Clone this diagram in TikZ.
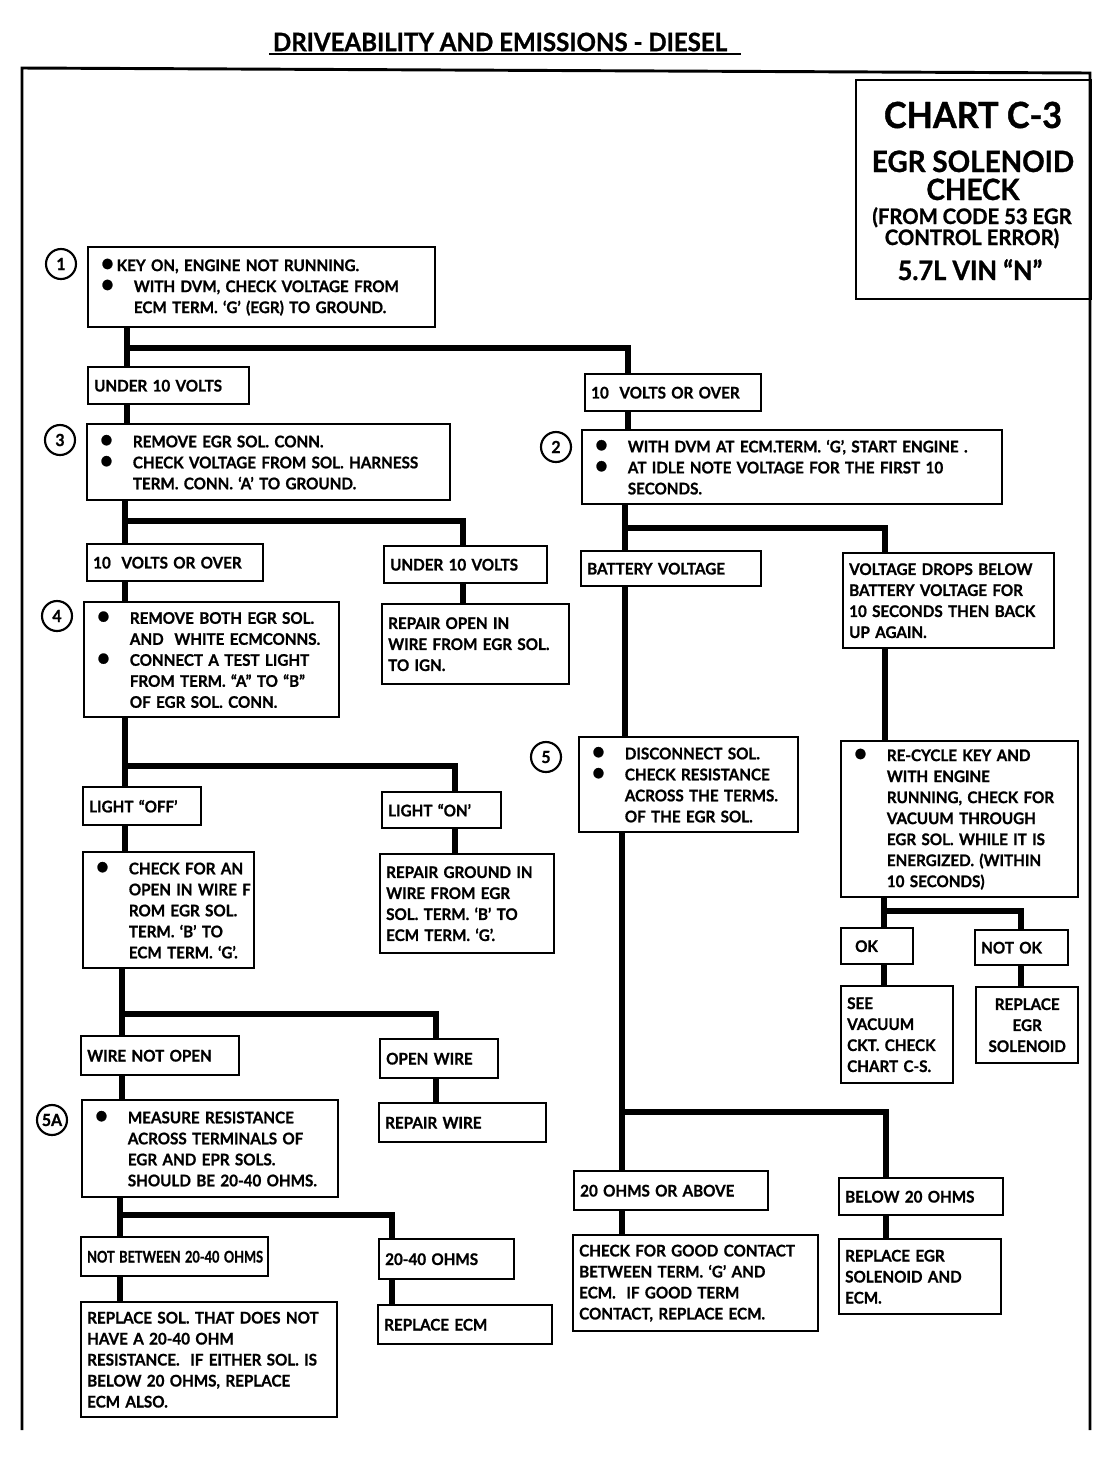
\documentclass[tikz,border=0pt]{standalone}
\usepackage{graphicx}
\usepackage{fontspec}
\setmainfont{Lato}[FakeStretch=0.95, BoldFeatures={FakeBold=1}]

\newcommand{\bigbullet}{{\fontsize{18}{0}\selectfont\textbullet}}
\newcommand{\bl}{\hspace*{5pt}\makebox[24.75pt][l]{\bigbullet}}
\newcommand{\ind}{\hspace*{29.75pt}}

\begin{document}
\begin{tikzpicture}[x=0.75pt,y=0.75pt,yscale=-1,xscale=1,
    box/.style={draw, fill=white, line width=1.8pt, anchor=north west, align=left,
        inner xsep=4.5pt, inner ysep=0pt, font=\fontsize{12}{15.75}\selectfont\bfseries},
    wire/.style={line width=4.2pt},
    stepno/.style={draw, circle, line width=1.6pt, minimum size=22.5pt, inner sep=0pt,
        font=\fontsize{12.5}{14}\selectfont\bfseries},
    chartline/.style={anchor=base, inner sep=0pt}]
    \useasboundingbox (0,0) rectangle (1104,1472);

    % Title
    \node (title) at (500,42) [inner sep=1.5pt, font=\fontsize{19}{22}\selectfont\bfseries] {DRIVEABILITY AND EMISSIONS - DIESEL};
    \draw [line width=1.5pt] ([xshift=-1pt]title.south west) -- ([xshift=9pt]title.south east);

    % Frame, open at the bottom
    \draw [line width=2.2pt] (22,1430) -- (22,68) -- (1090,73) -- (1090,1430);

    % Chart box
    \node (chart) at (855,79) [draw, line width=1.8pt, anchor=north west, minimum width=176.25pt, minimum height=164.25pt] {};
    \node (chartno) at (973,128) [chartline, font=\fontsize{27}{30}\selectfont\bfseries] {CHART C-3};
    \node (chartttl) at (973,172) [chartline, font=\fontsize{22}{24}\selectfont\bfseries] {EGR SOLENOID};
    \node (chartchk) at (973,200) [chartline, font=\fontsize{22}{24}\selectfont\bfseries] {CHECK};
    \node (chartfrom) at (972,224) [chartline, font=\fontsize{16}{18}\selectfont\bfseries] {(FROM CODE 53 EGR};
    \node (chartctl) at (972,245) [chartline, font=\fontsize{16}{18}\selectfont\bfseries] {CONTROL ERROR)};
    \node (chartvin) at (970,280) [chartline, font=\fontsize{20}{22}\selectfont\bfseries] {5.7L VIN “N”};

    % Step numbers
    \node (s1) at (61,264) [stepno] {1};
    \node (s3) at (60,440) [stepno] {3};
    \node (s2) at (556,447) [stepno] {2};
    \node (s4) at (57,616) [stepno] {4};
    \node (s5) at (546,757) [stepno] {5};
    \node (s5a) at (52,1120) [stepno] {5A};

    % Left column
    \node (c1) at (87,246) [box, text width=251.25pt, minimum height=60pt] {\hspace*{5pt}\bigbullet\,KEY ON, ENGINE NOT RUNNING.\\ \bl WITH DVM, CHECK VOLTAGE FROM\\ \ind ECM TERM. ‘G’ (EGR) TO GROUND.};
    \node (u1) at (87,366) [box, text width=111.75pt, minimum height=27.75pt] {UNDER 10 VOLTS};
    \node (c3) at (86,423) [box, text width=263.25pt, minimum height=57pt] {\bl REMOVE EGR SOL. CONN.\\ \bl CHECK VOLTAGE FROM SOL. HARNESS\\ \ind TERM. CONN. ‘A’ TO GROUND.};
    \node (o2) at (86,543) [box, text width=123pt, minimum height=27.75pt] {10\ \ VOLTS OR OVER};
    \node (u2) at (383,545) [box, text width=113.25pt, minimum height=27.75pt] {UNDER 10 VOLTS};
    \node (c4) at (83,601) [box, text width=182.25pt, minimum height=86.25pt] {\bl REMOVE BOTH EGR SOL.\\ \ind AND\ \ WHITE ECMCONNS.\\ \bl CONNECT A TEST LIGHT\\ \ind FROM TERM. “A” TO “B”\\ \ind OF EGR SOL. CONN.};
    \node (ropen) at (381,603) [box, text width=131.25pt, minimum height=60pt] {REPAIR OPEN IN\\ WIRE FROM EGR SOL.\\ TO IGN.};
    \node (off) at (82,786) [box, text width=79.5pt, minimum height=28.5pt] {LIGHT “OFF’};
    \node (on) at (381,791) [box, text width=80.25pt, minimum height=27pt] {LIGHT “ON’};
    \node (chkopen) at (82,851) [box, text width=119.25pt, minimum height=87pt] {\bl\mbox{CHECK FOR AN}\\ \ind\mbox{OPEN IN WIRE F}\\ \ind\mbox{ROM EGR SOL.}\\ \ind\mbox{TERM. ‘B’ TO}\\ \ind\mbox{ECM TERM. ‘G’.}};
    \node (rground) at (379,853) [box, text width=121.5pt, minimum height=74.25pt] {REPAIR GROUND IN\\ WIRE FROM EGR\\ SOL. TERM. ‘B’ TO\\ ECM TERM. ‘G’.};
    \node (wno) at (80,1035) [box, text width=109.5pt, minimum height=29.25pt] {WIRE NOT OPEN};
    \node (ow) at (379,1038) [box, text width=79.5pt, minimum height=29.25pt] {OPEN WIRE};
    \node (rwire) at (378,1102) [box, text width=116.25pt, minimum height=29.25pt] {REPAIR WIRE};
    \node (c5a) at (81,1099) [box, text width=183pt, minimum height=72.75pt] {\bl MEASURE RESISTANCE\\ \ind ACROSS TERMINALS OF\\ \ind EGR AND EPR SOLS.\\ \ind\mbox{SHOULD BE 20-40 OHMS.}};
    \node (nb) at (80,1236) [box, text width=131.25pt, minimum height=29.25pt] {\scalebox{0.84}[1]{NOT BETWEEN 20-40 OHMS}};
    \node (o2040) at (378,1238) [box, text width=92.25pt, minimum height=30pt] {20-40 OHMS};
    \node (rsol) at (80,1301) [box, text width=183pt, minimum height=86.25pt] {\mbox{REPLACE SOL. THAT DOES NOT}\\ HAVE A 20-40 OHM\\ \mbox{RESISTANCE.\ \ IF EITHER SOL. IS}\\ BELOW 20 OHMS, REPLACE\\ ECM ALSO.};
    \node (recm) at (377,1304) [box, text width=121.5pt, minimum height=29.25pt] {REPLACE ECM};

    % Right column
    \node (o1) at (584,373) [box, text width=123pt, minimum height=27.75pt] {10\ \ VOLTS OR OVER};
    \node (c2) at (581,429) [box, text width=306pt, minimum height=55.5pt] {\bl WITH DVM AT ECM.TERM. ‘G’, START ENGINE .\\ \bl AT IDLE NOTE VOLTAGE FOR THE FIRST 10\\ \ind SECONDS.};
    \node (bat) at (580,550) [box, text width=126pt, minimum height=26.25pt] {BATTERY VOLTAGE};
    \node (drops) at (842,552) [box, text width=149.25pt, minimum height=71.25pt] {VOLTAGE DROPS BELOW\\ BATTERY VOLTAGE FOR\\ 10 SECONDS THEN BACK\\ UP AGAIN.};
    \node (c5) at (578,736) [box, text width=155.25pt, minimum height=71.25pt] {\bl DISCONNECT SOL.\\ \bl CHECK RESISTANCE\\ \ind\mbox{ACROSS THE TERMS.}\\ \ind OF THE EGR SOL.};
    \node (recyc) at (840,740) [box, text width=168.75pt, minimum height=117pt] {\bl RE-CYCLE KEY AND\\ \ind WITH ENGINE\\ \ind RUNNING, CHECK FOR\\ \ind VACUUM THROUGH\\ \ind EGR SOL. WHILE IT IS\\ \ind ENERGIZED. (WITHIN\\ \ind 10 SECONDS)};
    \node (ok) at (840,927) [box, text width=45pt, minimum height=27pt] {\hspace*{6pt}OK};
    \node (notok) at (974,929) [box, text width=60.75pt, minimum height=26.25pt] {NOT OK};
    \node (seevac) at (840,985) [box, text width=75pt, minimum height=72.75pt] {SEE\\ VACUUM\\ CKT. CHECK\\ CHART C-S.};
    \node (regr) at (975,986) [box, align=center, text width=67.5pt, minimum height=57pt] {REPLACE\\ EGR\\ SOLENOID};
    \node (o20) at (573,1170) [box, text width=136.5pt, minimum height=29.25pt] {20 OHMS OR ABOVE};
    \node (b20) at (838,1177) [box, text width=114pt, minimum height=27.75pt] {BELOW 20 OHMS};
    \node (good) at (572,1234) [box, text width=174.75pt, minimum height=72pt] {CHECK FOR GOOD CONTACT\\ BETWEEN TERM. ‘G’ AND\\ ECM.\ \ IF GOOD TERM\\ CONTACT, REPLACE ECM.};
    \node (regrecm) at (838,1238) [box, text width=112.5pt, minimum height=56.25pt] {REPLACE EGR\\ SOLENOID AND\\ ECM.};

    % Branch points
    \coordinate (j1) at (127,348);  \coordinate (j1r) at (628,348);
    \coordinate (j2) at (125,521);  \coordinate (j2r) at (463,521);
    \coordinate (j3) at (625,528);  \coordinate (j3r) at (885,528);
    \coordinate (j4) at (125,766);  \coordinate (j4r) at (455,766);
    \coordinate (j5) at (122,1014); \coordinate (j5r) at (436,1014);
    \coordinate (j6) at (120,1215); \coordinate (j6r) at (392,1215);
    \coordinate (j7) at (884,911);  \coordinate (j7r) at (1021,911);
    \coordinate (j8) at (622,1112); \coordinate (j8r) at (886,1112);

    % Connectors
    \draw [wire] (j1 |- c1.south) -- (j1 |- u1.north);
    \draw [wire] (j1) -| (j1r |- o1.north);
    \draw [wire] (j1 |- u1.south) -- (j1 |- c3.north);
    \draw [wire] (j1r |- o1.south) -- (j1r |- c2.north);

    \draw [wire] (j2 |- c3.south) -- (j2 |- o2.north);
    \draw [wire] (j2) -| (j2r |- u2.north);
    \draw [wire] (j2 |- o2.south) -- (j2 |- c4.north);
    \draw [wire] (j2r |- u2.south) -- (j2r |- ropen.north);

    \draw [wire] (j4 |- c4.south) -- (j4 |- off.north);
    \draw [wire] (j4) -| (j4r |- on.north);
    \draw [wire] (j4 |- off.south) -- (j4 |- chkopen.north);
    \draw [wire] (j4r |- on.south) -- (j4r |- rground.north);

    \draw [wire] (j5 |- chkopen.south) -- (j5 |- wno.north);
    \draw [wire] (j5) -| (j5r |- ow.north);
    \draw [wire] (j5 |- wno.south) -- (j5 |- c5a.north);
    \draw [wire] (j5r |- ow.south) -- (j5r |- rwire.north);

    \draw [wire] (j6 |- c5a.south) -- (j6 |- nb.north);
    \draw [wire] (j6) -| (j6r |- o2040.north);
    \draw [wire] (j6 |- nb.south) -- (j6 |- rsol.north);
    \draw [wire] (j6r |- o2040.south) -- (j6r |- recm.north);

    \draw [wire] (j3 |- c2.south) -- (j3 |- bat.north);
    \draw [wire] (j3) -| (j3r |- drops.north);
    \draw [wire] (j3 |- bat.south) -- (j3 |- c5.north);
    \draw [wire] (j3r |- drops.south) -- (j3r |- recyc.north);

    \draw [wire] (j7 |- recyc.south) -- (j7 |- ok.north);
    \draw [wire] (j7) -| (j7r |- notok.north);
    \draw [wire] (j7 |- ok.south) -- (j7 |- seevac.north);
    \draw [wire] (j7r |- notok.south) -- (j7r |- regr.north);

    \draw [wire] (j8 |- c5.south) -- (j8 |- o20.north);
    \draw [wire] (j8) -| (j8r |- b20.north);
    \draw [wire] (j8 |- o20.south) -- (j8 |- good.north);
    \draw [wire] (j8r |- b20.south) -- (j8r |- regrecm.north);

\end{tikzpicture}
\end{document}
